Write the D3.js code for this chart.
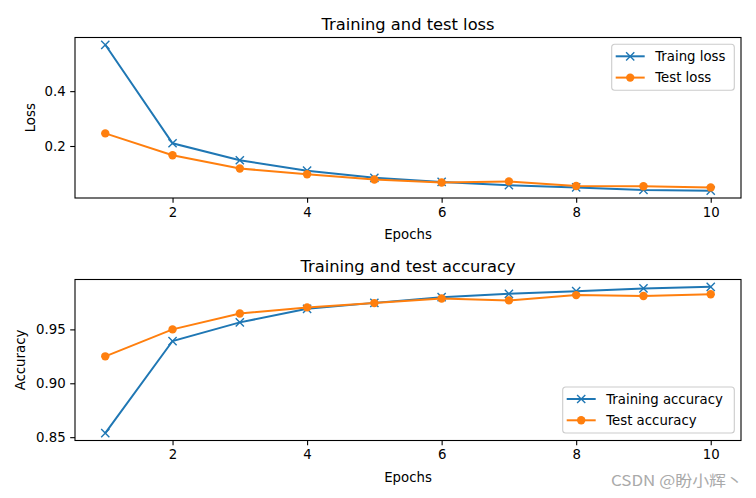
<!DOCTYPE html>
<html>
<head>
<meta charset="utf-8">
<script src="https://cdn.jsdelivr.net/npm/d3@7"></script>
<style>
  body { margin: 0; background: #fff; }
  text { font-family: "DejaVu Sans", sans-serif; fill: #000; }
</style>
</head>
<body>
<div id="chart"></div>
<script>
// data
var epochs = [1, 2, 3, 4, 5, 6, 7, 8, 9, 10];
var trainLoss = [0.569, 0.210, 0.148, 0.110, 0.084, 0.069, 0.057, 0.049, 0.040, 0.037];
var testLoss = [0.246, 0.166, 0.118, 0.097, 0.078, 0.067, 0.071, 0.054, 0.053, 0.049];
var trainAcc = [0.8537, 0.9392, 0.9565, 0.9691, 0.9746, 0.9799, 0.9830, 0.9855, 0.9880, 0.9895];
var testAcc = [0.9250, 0.9500, 0.9648, 0.9704, 0.9744, 0.9787, 0.9769, 0.9818, 0.9810, 0.9826];
var xTicks = [2, 4, 6, 8, 10];
var lossTicks = [0.2, 0.4];
var accTicks = [0.85, 0.90, 0.95];

var W = 756, H = 498;
var blue = "#1f77b4", orange = "#ff7f0e";
var xMark = "M-4.1,-4.1L4.1,4.1M-4.1,4.1L4.1,-4.1";

var svg = d3.select("#chart").append("svg")
    .attr("width", W).attr("height", H)
    .attr("xmlns", "http://www.w3.org/2000/svg");

function padDomain(vals){
    var lo = d3.min(vals), hi = d3.max(vals), m = (hi - lo) * 0.05;
    return [lo - m, hi + m];
}

function styleAxis(s){
    s.select(".domain").remove();
    s.selectAll("text").style("font-size", "13.3px");
    s.selectAll("line").attr("stroke-width", 1.1);
}

function drawPanel(cfg){
    var left = 75, right = 741, top = cfg.top, bottom = cfg.bottom;
    var x = d3.scaleLinear().domain(padDomain(epochs)).range([left, right]);
    var y = d3.scaleLinear().domain(padDomain(cfg.a.concat(cfg.b))).range([bottom, top]);
    var g = svg.append("g");

    // axes
    g.append("g").attr("transform", "translate(0," + bottom + ")")
        .call(d3.axisBottom(x).tickValues(xTicks).tickSize(4.8).tickPadding(4.5).tickFormat(d3.format("d")))
        .call(styleAxis);
    g.append("g").attr("transform", "translate(" + left + ",0)")
        .call(d3.axisLeft(y).tickValues(cfg.ticks).tickSize(4.8).tickPadding(4.5).tickFormat(cfg.fmt))
        .call(styleAxis);

    // series
    var line = d3.line().x(function(d, i){ return x(epochs[i]); }).y(function(d){ return y(d); });
    g.append("path").datum(cfg.a).attr("d", line).attr("fill", "none").attr("stroke", blue).attr("stroke-width", 2);
    g.selectAll(".xm").data(cfg.a).enter().append("path")
        .attr("transform", function(d, i){ return "translate(" + x(epochs[i]) + "," + y(d) + ")"; })
        .attr("d", xMark).attr("stroke", blue).attr("stroke-width", 1.4);
    g.append("path").datum(cfg.b).attr("d", line).attr("fill", "none").attr("stroke", orange).attr("stroke-width", 2);
    g.selectAll(".om").data(cfg.b).enter().append("circle")
        .attr("cx", function(d, i){ return x(epochs[i]); }).attr("cy", function(d){ return y(d); })
        .attr("r", 4.2).attr("fill", orange);

    // frame
    g.append("rect").attr("x", left).attr("y", top).attr("width", right - left).attr("height", bottom - top)
        .attr("fill", "none").attr("stroke", "#000").attr("stroke-width", 1.1);

    // texts
    g.append("text").attr("x", (left + right) / 2).attr("y", top - 8).attr("text-anchor", "middle")
        .style("font-size", "16.3px").text(cfg.title);
    g.append("text").attr("x", (left + right) / 2).attr("y", bottom + 41).attr("text-anchor", "middle")
        .style("font-size", "13.3px").text("Epochs");
    g.append("text").attr("transform", "translate(" + cfg.ylabX + "," + (top + bottom) / 2 + ") rotate(-90)")
        .attr("text-anchor", "middle").style("font-size", "13.3px").text(cfg.ylabel);

    // legend
    var lg = g.append("g").attr("transform", "translate(" + cfg.legX + "," + cfg.legY + ")");
    lg.append("rect").attr("width", 734.3 - cfg.legX).attr("height", 46).attr("rx", 3)
        .attr("fill", "#fff").attr("fill-opacity", 0.8).attr("stroke", "#ccc").attr("stroke-width", 1.1);
    [[cfg.names[0], blue, "x"], [cfg.names[1], orange, "o"]].forEach(function(e, i){
        var cy = 12 + i * 21.3;
        lg.append("line").attr("x1", 4).attr("x2", 33).attr("y1", cy).attr("y2", cy).attr("stroke", e[1]).attr("stroke-width", 2);
        if (e[2] === "x") {
            lg.append("path").attr("transform", "translate(18.5," + cy + ")").attr("d", xMark).attr("stroke", e[1]).attr("stroke-width", 1.4);
        } else {
            lg.append("circle").attr("cx", 18.5).attr("cy", cy).attr("r", 4.2).attr("fill", e[1]);
        }
        lg.append("text").attr("x", 43.5).attr("y", cy).attr("dy", "0.35em").style("font-size", "13.3px").text(e[0]);
    });
}

drawPanel({top: 37.5, bottom: 198, a: trainLoss, b: testLoss, ticks: lossTicks, fmt: d3.format(".1f"),
    title: "Training and test loss", ylabel: "Loss", ylabX: 35, names: ["Traing loss", "Test loss"], legX: 611.7, legY: 44.3});
drawPanel({top: 279.5, bottom: 440.5, a: trainAcc, b: testAcc, ticks: accTicks, fmt: d3.format(".2f"),
    title: "Training and test accuracy", ylabel: "Accuracy", ylabX: 25, names: ["Training accuracy", "Test accuracy"], legX: 562.7, legY: 387});

// watermark
svg.append("text").attr("x", 611).attr("y", 486)
    .attr("textLength", 132).attr("lengthAdjust", "spacingAndGlyphs")
    .style("font-family", "'Noto Sans CJK SC', sans-serif").style("font-size", "15px").style("fill", "#aaaaaa")
    .text("CSDN @盼小辉丶");
</script>
</body>
</html>
